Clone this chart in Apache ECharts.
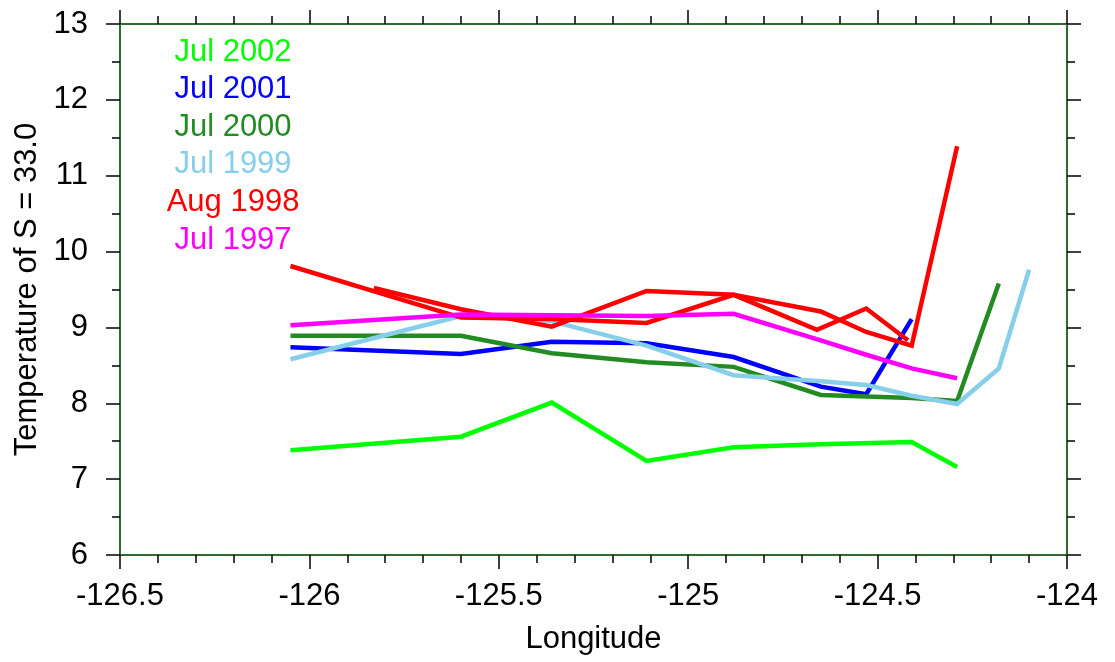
<!DOCTYPE html>
<html>
<head>
<meta charset="utf-8">
<script src="https://cdn.jsdelivr.net/npm/echarts@6/dist/echarts.min.js"></script>
<style>
  html, body { margin: 0; padding: 0; background: #ffffff; }
  #chart { width: 1115px; height: 662px; }
</style>
</head>
<body>
<div id="chart"></div>
<script>
// ---- data ----
const xTitle = 'Longitude';
const yTitle = 'Temperature of S = 33.0';

const lon2002 = [-126.05, -125.6, -125.36, -125.11, -124.88, -124.65, -124.41, -124.29];
const t2002   = [7.38, 7.56, 8.01, 7.24, 7.42, 7.46, 7.49, 7.16];

const lon2001 = [-126.05, -125.6, -125.36, -125.11, -124.88, -124.65, -124.53, -124.41];
const t2001   = [8.74, 8.65, 8.81, 8.79, 8.61, 8.22, 8.12, 9.11];

const lon2000 = [-126.05, -125.6, -125.36, -125.11, -124.88, -124.65, -124.53, -124.41, -124.29, -124.18];
const t2000   = [8.89, 8.89, 8.66, 8.54, 8.48, 8.11, 8.09, 8.07, 8.03, 9.58];

const lon1999 = [-126.05, -125.6, -125.36, -125.11, -124.88, -124.65, -124.53, -124.41, -124.29, -124.18, -124.1];
const t1999   = [8.58, 9.15, 9.08, 8.76, 8.37, 8.29, 8.24, 8.10, 7.99, 8.46, 9.76];

const lon1998a = [-126.05, -125.6, -125.36, -125.11, -124.88, -124.65, -124.53, -124.41, -124.29];
const t1998a   = [9.81, 9.13, 9.11, 9.06, 9.43, 9.21, 8.94, 8.76, 11.39];
const lon1998b = [-125.83, -125.6, -125.36, -125.11, -124.88, -124.66, -124.53, -124.42];
const t1998b   = [9.52, 9.24, 9.01, 9.48, 9.43, 8.97, 9.25, 8.83];

const lon1997 = [-126.05, -125.6, -125.36, -125.11, -124.88, -124.65, -124.53, -124.41, -124.29];
const t1997   = [9.03, 9.17, 9.16, 9.15, 9.18, 8.83, 8.64, 8.46, 8.33];

const legendNames  = ['Jul 2002', 'Jul 2001', 'Jul 2000', 'Jul 1999', 'Aug 1998', 'Jul 1997'];
const legendColors = ['#00ff00', '#0000ff', '#228b22', '#87ceeb', '#ff0000', '#ff00ff'];

// ---- build ----
function pairs(xs, ys) { return xs.map((x, i) => [x, ys[i]]); }

const seriesDefs = [
  { name: 'Jul 2002', c: 0, d: pairs(lon2002, t2002) },
  { name: 'Jul 2001', c: 1, d: pairs(lon2001, t2001) },
  { name: 'Jul 2000', c: 2, d: pairs(lon2000, t2000) },
  { name: 'Jul 1999', c: 3, d: pairs(lon1999, t1999) },
  { name: 'Aug 1998', c: 4, d: pairs(lon1998a, t1998a) },
  { name: 'Aug 1998', c: 4, d: pairs(lon1998b, t1998b) },
  { name: 'Jul 1997', c: 5, d: pairs(lon1997, t1997) }
];

const FONT = '"Liberation Sans", Arial, Helvetica, sans-serif';
const FS = 31;
const AXIS_COLOR = '#2f6b2f';

function axisCommon(showLabel) {
  return {
    axisLine: { show: true, onZero: false, lineStyle: { color: AXIS_COLOR, width: 2 } },
    axisTick: { show: true, inside: false, length: 14, lineStyle: { color: '#000', width: 1.5 } },
    minorTick: { show: true, length: 8, lineStyle: { color: '#000', width: 1.5 } },
    splitLine: { show: false },
    minorSplitLine: { show: false },
    axisLabel: { show: showLabel, color: '#000', fontSize: FS, fontFamily: FONT }
  };
}

const chart = echarts.init(document.getElementById('chart'), null, { renderer: 'canvas' });

const xBottom = Object.assign(axisCommon(true), {
  type: 'value', position: 'bottom', min: -126.5, max: -124, interval: 0.5,
  name: xTitle, nameLocation: 'middle', nameGap: 69,
  nameTextStyle: { color: '#000', fontSize: FS, fontFamily: FONT }
});
xBottom.minorTick.splitNumber = 5;
xBottom.axisLabel.margin = 26;

const xTop = Object.assign(axisCommon(false), {
  type: 'value', position: 'top', min: -126.5, max: -124, interval: 0.5
});
xTop.minorTick.splitNumber = 5;

const yLeft = Object.assign(axisCommon(true), {
  type: 'value', position: 'left', min: 6, max: 13, interval: 1,
  name: yTitle, nameLocation: 'middle', nameGap: 76, nameRotate: 90,
  nameTextStyle: { color: '#000', fontSize: FS, fontFamily: FONT }
});
yLeft.minorTick.splitNumber = 2;
yLeft.axisLabel.margin = 32;

const yRight = Object.assign(axisCommon(false), {
  type: 'value', position: 'right', min: 6, max: 13, interval: 1
});
yRight.minorTick.splitNumber = 2;

const option = {
  backgroundColor: '#ffffff',
  animation: false,
  grid: { left: 120, right: 48, top: 24, bottom: 107, containLabel: false },
  xAxis: [xBottom, xTop],
  yAxis: [yLeft, yRight],
  series: seriesDefs.map(s => ({
    type: 'line',
    name: s.name,
    xAxisIndex: 0,
    yAxisIndex: 0,
    data: s.d,
    symbol: 'none',
    lineStyle: { color: legendColors[s.c], width: 4.5, join: 'miter' },
    itemStyle: { color: legendColors[s.c] }
  })),
  graphic: legendNames.map((n, i) => ({
    type: 'text',
    x: 233,
    y: 52 + i * 37.6,
    style: {
      text: n,
      fill: legendColors[i],
      font: FS + 'px ' + FONT,
      align: 'center',
      verticalAlign: 'middle'
    }
  }))
};

chart.setOption(option);
</script>
</body>
</html>
